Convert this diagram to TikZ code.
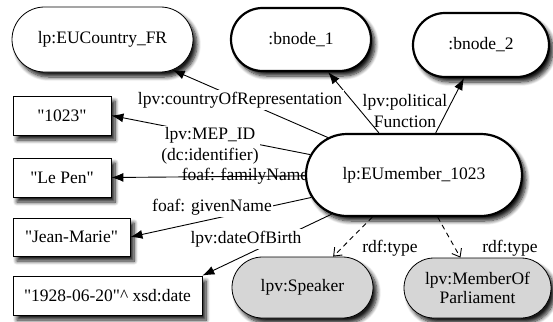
\documentclass[tikz,border=0pt]{standalone}
\usepackage{fontspec}
\setmainfont{Liberation Serif}[Ligatures=TeXOff]
\usepackage{tikz}
\usetikzlibrary{shapes.misc, arrows.meta, shadows.blur}
\tikzstyle{rnode} = [rounded rectangle, draw, fill=white, line width=0.8pt, inner sep=0pt, align=center, font=\fontsize{17.5}{19}\selectfont, blur shadow={shadow xshift=4pt, shadow yshift=-5pt, shadow blur radius=4pt, shadow blur steps=8, shadow opacity=90}]
\tikzstyle{bnode} = [rnode, line width=2.2pt]
\tikzstyle{cnode} = [rnode, fill=black!16]
\tikzstyle{literal} = [rectangle, draw, fill=white, line width=0.8pt, inner sep=0pt, font=\fontsize{17.5}{19}\selectfont, blur shadow={shadow xshift=4pt, shadow yshift=-5pt, shadow blur radius=4pt, shadow blur steps=8, shadow opacity=90}]
\tikzstyle{prop} = [fill=white, inner sep=1.5pt, align=center, font=\fontsize{17.5}{21}\selectfont]
\tikzstyle{arrow} = [draw, line width=0.9pt, -{Latex[length=12pt, width=9pt]}]
\tikzstyle{typearrow} = [draw, line width=0.9pt, dash pattern=on 5pt off 4pt, -{Straight Barb[length=7pt, width=11pt]}]

\begin{document}
\begin{tikzpicture}[x=1pt, y=-1pt]
\useasboundingbox (0,0) rectangle (553,321);

%% resources
\node[rnode, minimum width=181pt, minimum height=65pt] at (102.5, 39.5) (country) {lp:EUCountry\_FR};
\node[bnode, minimum width=140pt, minimum height=63pt] at (301, 39.5) (bnodeone) {:bnode\_1};
\node[bnode, minimum width=136pt, minimum height=64pt] at (481, 45) (bnodetwo) {:bnode\_2};

\node[prop] at (405, 111) (funclabel) {lpv:political\\Function};
\node[prop, fill=none] at (245, 176) (famlabel) {foaf: familyName};

\node[bnode, minimum width=216pt, minimum height=82pt] at (414, 175) (member) {lp:EUmember\_1023};

\node[cnode, minimum width=141pt, minimum height=61pt] at (302.5, 287.5) (speaker) {lpv:Speaker};
\node[cnode, minimum width=147pt, minimum height=60pt] at (477.5, 288) (parliament) {lpv:MemberOf\\Parliament};

%% literals
\node[literal, minimum width=98pt, minimum height=39pt] at (62, 115.5) (mepid) {"1023"};
\node[literal, minimum width=98pt, minimum height=39pt] at (62, 177.5) (famname) {"Le Pen"};
\node[literal, minimum width=117pt, minimum height=38pt] at (71.5, 237) (givname) {"Jean-Marie"};
\node[literal, minimum width=189pt, minimum height=39pt] at (107.5, 295.5) (birth) {"1928-06-20"\textasciicircum{} xsd:date};

% properties
\path[arrow] (member) -- (country);
\path[arrow] (member) -- (bnodeone);
\path[arrow] (member) -- (bnodetwo);
\path[arrow] (member) -- (mepid.east);
\path[arrow] (member) -- (famname.east);
\path[arrow] (member) -- (givname.east);
\path[arrow] (member) -- (birth.north east);
\path[typearrow] (member) -- (speaker);
\path[typearrow] (member) -- (parliament);

\node[prop] at (240, 100) (reprlabel) {lpv:countryOfRepresentation};
\node[prop] at (210, 146) (idlabel) {lpv:MEP\_ID\\(dc:identifier)};
\node[prop] at (212, 207) (givlabel) {foaf: givenName};
\node[prop] at (246, 239) (birthlabel) {lpv:dateOfBirth};
\node[prop, fill=none] at (390, 248) (typespeaker) {rdf:type};
\node[prop, fill=none] at (510, 248) (typeparl) {rdf:type};
\end{tikzpicture}
\end{document}
